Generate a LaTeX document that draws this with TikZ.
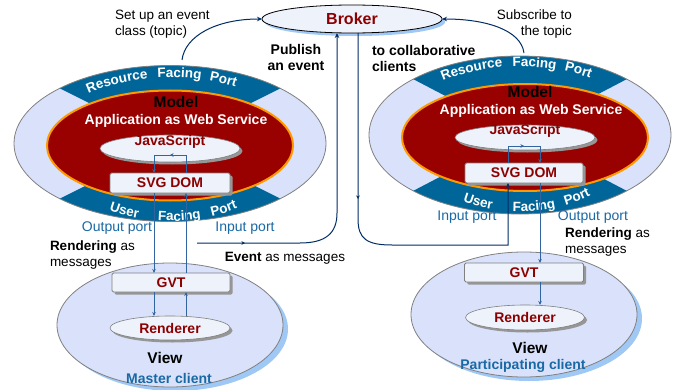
\documentclass[tikz,border=0pt]{standalone}
\usepackage{fontspec}
\setmainfont{Liberation Sans}
\usetikzlibrary{arrows.meta,calc,shapes.geometric,shadows,decorations.text,decorations.markings}

\definecolor{lightfill}{RGB}{217,226,250}
\definecolor{rimgray}{RGB}{128,128,128}
\definecolor{bandblue}{RGB}{0,102,153}
\definecolor{modelred}{RGB}{153,0,0}
\definecolor{rimorange}{RGB}{255,153,0}
\definecolor{boxfill}{RGB}{238,242,251}
\definecolor{darkred}{RGB}{140,0,0}
\definecolor{portblue}{RGB}{25,105,165}
\definecolor{navy}{RGB}{0,45,100}
\definecolor{steel}{RGB}{50,100,160}
\definecolor{skyshadow}{RGB}{160,200,245}
\definecolor{boxshadow}{RGB}{150,150,150}

\newcommand{\fsz}[2]{\fontsize{#1}{#2}\selectfont}
\newcommand{\bandfont}{\fontsize{13.5}{13.5}\selectfont\bfseries}

\begin{document}
\begin{tikzpicture}[x=1pt,y=1pt,
  txt/.style={font=\fsz{13.5}{16}, inner sep=0pt, outer sep=0pt},
  btxt/.style={font=\fsz{14}{16}\bfseries, inner sep=0pt, outer sep=0pt},
  redlabel/.style={font=\fsz{14}{16}\bfseries, text=darkred, inner sep=0pt},
  porttxt/.style={font=\fsz{14}{16}, text=portblue, inner sep=0pt},
  clienttxt/.style={font=\fsz{14}{16}\bfseries, text=portblue, inner sep=0pt},
  modeltxt/.style={font=\fsz{15.5}{16}\bfseries, inner sep=0pt},
  apptxt/.style={font=\fsz{14}{16}\bfseries, text=white, inner sep=0pt},
  innerell/.style={ellipse, draw=rimgray, fill=boxfill, line width=0.6pt, inner sep=0pt, outer sep=0pt,
    drop shadow={shadow xshift=2.5pt, shadow yshift=-2.5pt, fill=boxshadow, opacity=1}},
  innerbox/.style={rectangle, rounded corners=1.5pt, draw=rimgray, fill=boxfill, line width=0.8pt, inner sep=0pt, outer sep=0pt,
    drop shadow={shadow xshift=2.5pt, shadow yshift=-2.5pt, fill=boxshadow, opacity=1}},
  viewell/.style={ellipse, draw=rimgray, fill=lightfill, line width=0.8pt, inner sep=0pt, outer sep=0pt,
    drop shadow={shadow xshift=5pt, shadow yshift=-4pt, fill=skyshadow, opacity=1}},
  conn/.style={steel, line width=0.8pt},
  tip/.style={-{Stealth[length=4pt,width=3.5pt]}},
  bustip/.style={-{Stealth[length=5pt,width=4.5pt]}},
  bus/.style={navy, line width=1pt},
  midarrow/.style={postaction={decorate}, decoration={markings, mark=at position #1 with {\arrow{Stealth[length=3.5pt,width=3.5pt]}}}},
  bandtext/.style={decorate, decoration={text along path, text align=center, text color=white, text={|\bandfont|#1}}},
]
\useasboundingbox (0,0) rectangle (677,389);
\fill[white] (0,0) rectangle (677,389);

% ---------- Left model (master) ----------
\fill[lightfill] (170,245.5) ellipse[x radius=156pt, y radius=78pt];
\fill[bandblue] (170,245.5) -- ($(170,245.5)+(45:156pt and 78pt)$) arc[start angle=45, end angle=135, x radius=156pt, y radius=78pt] -- cycle;
\fill[bandblue] (170,245.5) -- ($(170,245.5)+(225:156pt and 78pt)$) arc[start angle=225, end angle=315, x radius=156pt, y radius=78pt] -- cycle;
\draw[rimgray, line width=0.8pt] (170,245.5) ellipse[x radius=156pt, y radius=78pt];
\draw[rimorange, line width=2pt, fill=modelred] (170,243.5) ellipse[x radius=123pt, y radius=55pt];

\path[bandtext=Resource] ($(170,245.5)+(141.6:125pt and 66pt)$) arc[start angle=141.6, end angle=91.6, x radius=125pt, y radius=66pt];
\path[bandtext=Facing] ($(170,245.5)+(110.4:125pt and 66pt)$) arc[start angle=110.4, end angle=60.4, x radius=125pt, y radius=66pt];
\path[bandtext=Port] ($(170,245.5)+(88.4:125pt and 66pt)$) arc[start angle=88.4, end angle=38.4, x radius=125pt, y radius=66pt];
\path[bandtext=User] ($(170,245.5)+(221.5:123pt and 77.5pt)$) arc[start angle=221.5, end angle=271.5, x radius=123pt, y radius=77.5pt];
\path[bandtext=Facing] ($(170,245.5)+(249.7:123pt and 77.5pt)$) arc[start angle=249.7, end angle=299.7, x radius=123pt, y radius=77.5pt];
\path[bandtext=Port] ($(170,245.5)+(273:123pt and 77.5pt)$) arc[start angle=273, end angle=323, x radius=123pt, y radius=77.5pt];

\node[modeltxt] (modelL) at (176,287) {Model};
\node[apptxt] (appL) at (176,268) {Application as Web Service};
\node[innerell, minimum width=140pt, minimum height=27pt] (jsL) at (170,240.5) {};
\node[redlabel] (jsLt) at (170,247) {JavaScript};
\node[innerbox, redlabel, minimum width=120pt, minimum height=20pt] (svgL) at (170,206) {SVG DOM};

% ---------- Right model (participant) ----------
\fill[lightfill] (520,254) ellipse[x radius=151pt, y radius=79pt];
\fill[bandblue] (520,254) -- ($(520,254)+(45:151pt and 79pt)$) arc[start angle=45, end angle=135, x radius=151pt, y radius=79pt] -- cycle;
\fill[bandblue] (520,254) -- ($(520,254)+(225:151pt and 79pt)$) arc[start angle=225, end angle=315, x radius=151pt, y radius=79pt] -- cycle;
\draw[rimgray, line width=0.8pt] (520,254) ellipse[x radius=151pt, y radius=79pt];
\draw[rimorange, line width=2pt, fill=modelred] (525,251.5) ellipse[x radius=123pt, y radius=53.5pt];

\path[bandtext=Resource] ($(520,254)+(139:125pt and 68.5pt)$) arc[start angle=139, end angle=89, x radius=125pt, y radius=68.5pt];
\path[bandtext=Facing] ($(520,254)+(108:125pt and 68.5pt)$) arc[start angle=108, end angle=58, x radius=125pt, y radius=68.5pt];
\path[bandtext=Port] ($(520,254)+(85.8:125pt and 68.5pt)$) arc[start angle=85.8, end angle=35.8, x radius=125pt, y radius=68.5pt];
\path[bandtext=User] ($(520,254)+(222:115pt and 76.5pt)$) arc[start angle=222, end angle=272, x radius=115pt, y radius=76.5pt];
\path[bandtext=Facing] ($(520,254)+(252.5:115pt and 76.5pt)$) arc[start angle=252.5, end angle=302.5, x radius=115pt, y radius=76.5pt];
\path[bandtext=Port] ($(520,254)+(277:115pt and 76.5pt)$) arc[start angle=277, end angle=327, x radius=115pt, y radius=76.5pt];

\node[modeltxt] (modelR) at (530,297) {Model};
\node[apptxt] (appR) at (531,278) {Application as Web Service};
\node[innerell, minimum width=140pt, minimum height=25pt] (jsR) at (525,251.5) {};
\node[redlabel] (jsRt) at (525,258) {JavaScript};
\node[innerbox, redlabel, minimum width=118pt, minimum height=20pt] (svgR) at (524,216) {SVG DOM};

% ---------- Views ----------
\node[viewell, minimum width=226pt, minimum height=124pt] (viewL) at (170,64) {};
\node[viewell, minimum width=226pt, minimum height=125pt] (viewR) at (524,74.5) {};
\node[innerbox, redlabel, minimum width=118pt, minimum height=19pt] (gvtL) at (171,106.5) {GVT};
\node[innerbox, redlabel, minimum width=119pt, minimum height=19pt] (gvtR) at (524,116.5) {GVT};
\node[innerell, redlabel, minimum width=120pt, minimum height=24pt] (rendL) at (170,61) {Renderer};
\node[innerell, redlabel, minimum width=119pt, minimum height=25pt] (rendR) at (525,71.5) {Renderer};
\node[modeltxt] (viewLt) at (165,31.5) {View};
\node[clienttxt] (clientL) at (169,10.5) {Master client};
\node[modeltxt] (viewRt) at (530,41) {View};
\node[clienttxt] (clientR) at (523,23) {Participating client};

% ---------- Broker ----------
\node[ellipse, draw=black, line width=0.8pt, fill=boxfill, minimum width=180pt, minimum height=28pt, inner sep=0pt, outer sep=0pt,
  drop shadow={shadow xshift=3pt, shadow yshift=-3pt, fill=skyshadow, opacity=1},
  font=\fsz{16}{16}\bfseries, text=darkred] (broker) at (352,370) {Broker};

% ---------- helper coordinates ----------
\coordinate (xLa) at (154,0);
\coordinate (xLb) at (186,0);
\coordinate (xRa) at (508,0);
\coordinate (xRb) at (540,0);
\coordinate (loopL) at (0,234);
\coordinate (loopR) at (0,243);
\coordinate (busA) at (337,0);
\coordinate (busB) at (358,0);
\coordinate (evStart) at (197,146);
\coordinate (setS) at (182,329);
\coordinate (subS) at (524,336);

% ---------- inner connectors ----------
\draw[conn, tip, midarrow=0.5] (svgL.north -| xLb) -- (xLb |- loopL) -- (xLa |- loopL) -- (svgL.north -| xLa);
\draw[conn, tip] (svgL.south -| xLa) -- (gvtL.north -| xLa);
\draw[conn, tip] (gvtL.north -| xLb) -- (svgL.south -| xLb);
\draw[conn, tip] (gvtL.south -| xLa) -- (rendL.north -| xLa);
\draw[conn, tip] (rendL.north -| xLb) -- (gvtL.south -| xLb);

\draw[conn, tip, midarrow=0.5] (svgR.north -| xRa) -- (xRa |- loopR) -- (xRb |- loopR) -- (svgR.north -| xRb);
\draw[conn, tip] (svgR.south -| xRb) -- (gvtR.north -| xRb);
\draw[conn, tip] (gvtR.south -| xRb) -- (rendR.north -| xRb);

% ---------- broker connectors ----------
\draw[bus, bustip] (setS) .. controls (185,353) and (216,370) .. (broker.west);
\draw[bus, bustip] (subS) .. controls (521,359) and (486,370) .. (broker.east);
\draw[bus, bustip, midarrow=48pt] (evStart) -- (300,146) .. controls (326,146) and (337,156) .. (337,176) -- (broker.south -| busA);
\draw[bus, tip, midarrow=166pt] (broker.south -| busB) -- (358,170) .. controls (358,150) and (367,144) .. (392,144) -- (508,144) -- (svgR.south -| xRa);

% ---------- labels ----------
\node[txt, align=left, anchor=west] (setT) at (115,365) {Set up an event\\class (topic)};
\node[btxt, align=center] (pubT) at (296,332) {Publish\\ an event};
\node[btxt, align=left, anchor=west] (colT) at (372,331) {to collaborative\\clients};
\node[txt, align=right, anchor=east] (subT) at (572,364.5) {Subscribe to\\the topic};

\node[porttxt] (outL) at (117,161) {Output port};
\node[porttxt] (inL) at (245,161) {Input port};
\node[porttxt] (inR) at (467,171.5) {Input port};
\node[porttxt] (outR) at (593,171.5) {Output port};

\node[txt, align=left, anchor=west] (rendTL) at (50,134) {\textbf{Rendering} as\\messages};
\node[txt] (evT) at (285,131) {\textbf{Event} as messages};
\node[txt, align=left, anchor=west] (rendTR) at (565,147) {\textbf{Rendering} as\\messages};
\end{tikzpicture}
\end{document}
